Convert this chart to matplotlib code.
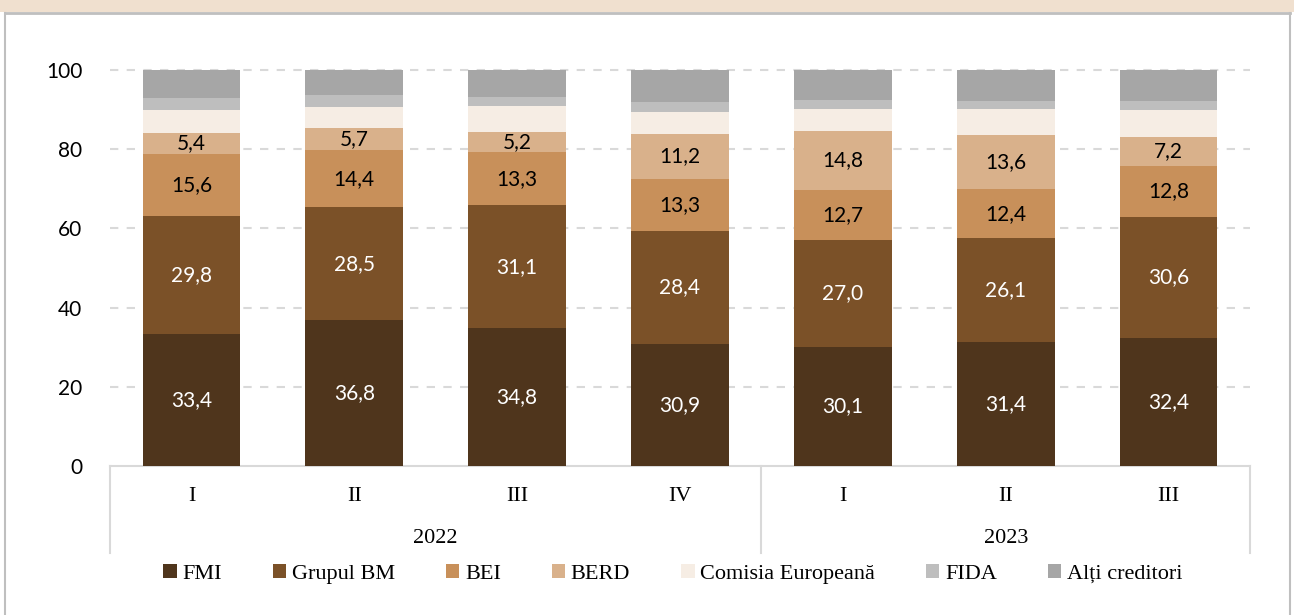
import matplotlib
matplotlib.use("Agg")
import matplotlib.pyplot as plt
from matplotlib.patches import Rectangle
from matplotlib.lines import Line2D
import numpy as np

quarters = ["I", "II", "III", "IV", "I", "II", "III"]
years = ["2022", "2023"]
year_counts = [4, 3]

series_names = ["FMI", "Grupul BM", "BEI", "BERD", "Comisia Europeană", "FIDA", "Alți creditori"]
fmi = [33.4, 36.8, 34.8, 30.9, 30.1, 31.4, 32.4]
grupul_bm = [29.8, 28.5, 31.1, 28.4, 27.0, 26.1, 30.6]
bei = [15.6, 14.4, 13.3, 13.3, 12.7, 12.4, 12.8]
berd = [5.4, 5.7, 5.2, 11.2, 14.8, 13.6, 7.2]
comisia = [5.7, 5.3, 6.5, 5.7, 5.5, 6.6, 6.9]
fida = [3.1, 3.0, 2.3, 2.3, 2.2, 2.1, 2.3]
alti = [7.0, 6.3, 6.8, 8.2, 7.7, 7.8, 7.8]

series = [fmi, grupul_bm, bei, berd, comisia, fida, alti]
colors = ["#4F351C", "#7B5128", "#C8905A", "#D9B18B", "#F6EDE4", "#BEBEBE", "#A6A6A6"]
label_colors = ["white", "white", "black", "black", None, None, None]

serif = ["Liberation Serif", "DejaVu Serif"]
sans = ["Lato", "DejaVu Sans"]

W, H = 1294, 615
fig = plt.figure(figsize=(W / 100, H / 100), dpi=100)

# top band and frame
fig.patches.append(Rectangle((0, 1 - 12 / H), 1, 12 / H, transform=fig.transFigure,
                             facecolor="#F0E0CF", edgecolor="none", zorder=0))
fig.lines.append(Line2D([5 / W, 1290 / W], [1 - 13 / H, 1 - 13 / H], transform=fig.transFigure,
                        color="#BFBFBF", lw=2))
fig.lines.append(Line2D([5 / W, 5 / W], [0, 1 - 13 / H], transform=fig.transFigure,
                        color="#BFBFBF", lw=1.5))
fig.lines.append(Line2D([1290 / W, 1290 / W], [0, 1 - 13 / H], transform=fig.transFigure,
                        color="#BFBFBF", lw=1.5))

ax = fig.add_axes([110 / W, 1 - 466 / H, (1250 - 110) / W, (466 - 70) / H])
x = np.arange(len(quarters))
bottom = np.zeros(len(quarters))
for name, vals, col, lc in zip(series_names, series, colors, label_colors):
    vals = np.array(vals)
    ax.bar(x, vals, 0.6, bottom=bottom, color=col, label=name, zorder=3)
    if lc is not None:
        for xi, b, v in zip(x, bottom, vals):
            ax.text(xi, b + v / 2, f"{v:.1f}".replace(".", ","), ha="center", va="center",
                    color=lc, fontsize=15, family=sans, zorder=4)
    bottom += vals

ax.set_xlim(-0.5, len(quarters) - 0.5)
ax.set_ylim(0, 100)
ax.set_yticks([0, 20, 40, 60, 80, 100])
ax.set_yticklabels(["0", "20", "40", "60", "80", "100"], family=sans, fontsize=15)
ax.tick_params(axis="y", length=0, pad=20)
ax.set_xticks([])
for s in ["top", "right", "left"]:
    ax.spines[s].set_visible(False)
ax.spines["bottom"].set_color("#D9D9D9")
ax.spines["bottom"].set_linewidth(1.5)
for yv in [20, 40, 60, 80, 100]:
    ax.axhline(yv, color="#D9D9D9", lw=1.5, ls=(0, (4, 4)), zorder=1, clip_on=False)

# category axis
for xi, q in zip(x, quarters):
    ax.text(xi, -0.076, q, transform=ax.get_xaxis_transform(), ha="center", va="center",
            fontsize=16, family=serif)
start = 0
bounds = [-0.5]
for yr, n in zip(years, year_counts):
    ax.text(start + (n - 1) / 2, -0.183, yr, transform=ax.get_xaxis_transform(), ha="center",
            va="center", fontsize=16, family=serif)
    start += n
    bounds.append(start - 0.5)
for bx in bounds:
    ax.plot([bx, bx], [0, -0.22], transform=ax.get_xaxis_transform(), color="#D9D9D9",
            lw=1.5, clip_on=False)

leg = fig.legend(loc="center", bbox_to_anchor=(0.52, 1 - 574 / H), ncol=7, frameon=False,
                 prop={"family": serif, "size": 16}, handlelength=0.6, handleheight=0.6,
                 handletextpad=0.25, columnspacing=2.3)

fig.savefig("out.png", dpi=100)
